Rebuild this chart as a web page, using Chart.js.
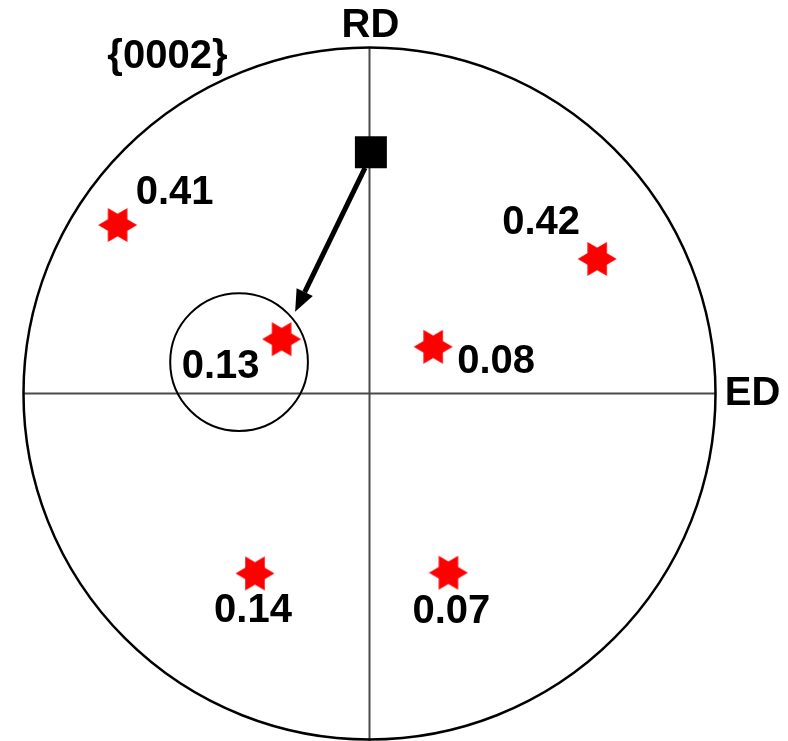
<!DOCTYPE html>
<html>
<head>
<meta charset="utf-8">
<script src="https://cdn.jsdelivr.net/npm/chart.js@4/dist/chart.umd.min.js"></script>
<style>
  html, body { margin: 0; padding: 0; background: #ffffff; }
  canvas { display: block; }
</style>
</head>
<body>
<canvas id="pole" width="788" height="741"></canvas>
<script>
// {0002} pole figure: pole positions in projection units (circle radius = 1)
const poleX = [-0.728, -0.254, 0.658, 0.184, -0.331, 0.228];
const poleY = [0.487, 0.157, 0.389, 0.135, -0.520, -0.518];
const poleIntensity = [0.41, 0.13, 0.42, 0.08, 0.14, 0.07];

// reference orientation (black square)
const refX = [0.004];
const refY = [0.697];

// highlighted region around the 0.13 pole
const ringX = [-0.377];
const ringY = [0.091];
const ringR = [0.199];

// arrow from the reference orientation to the highlighted pole
const arrowFrom = [-0.013, 0.652];
const arrowTo = [-0.215, 0.236];

const axisLabels = ['RD', 'ED'];
const figureTitle = '{0002}';

// red six-pointed star used as point marker
function makeStar() {
  const c = document.createElement('canvas');
  c.width = 40; c.height = 36;
  const g = c.getContext('2d');
  const cx = 20, cy = 18, R = 19.5, r = R / Math.sqrt(3);
  g.beginPath();
  for (let i = 0; i < 12; i++) {
    const a = i * Math.PI / 6;
    const rr = i % 2 === 0 ? R : r;
    const x = cx + rr * Math.cos(a), y = cy - rr * Math.sin(a);
    if (i === 0) g.moveTo(x, y); else g.lineTo(x, y);
  }
  g.closePath();
  g.fillStyle = '#ff0000';
  g.fill();
  return c;
}

const FONT = 'bold 40px "Liberation Sans", Arial, sans-serif';

// label offsets (px) of each intensity value from its star
const labelOffsets = [[57, -32], [-61, 28], [-56, -36], [63, 15], [-2, 38], [3, 39]];

const frame = {
  id: 'poleFrame',
  beforeDatasetsDraw(chart) {
    const { ctx, scales: { x, y } } = chart;
    const cx = x.getPixelForValue(0), cy = y.getPixelForValue(0);
    const rad = x.getPixelForValue(1) - cx;
    ctx.save();
    // crosshair
    ctx.strokeStyle = '#4a4a4a';
    ctx.lineWidth = 2;
    ctx.beginPath();
    ctx.moveTo(cx, y.getPixelForValue(1));
    ctx.lineTo(cx, y.getPixelForValue(-1) + 4);
    ctx.moveTo(x.getPixelForValue(-1), cy);
    ctx.lineTo(x.getPixelForValue(1), cy);
    ctx.stroke();
    // projection circle
    ctx.strokeStyle = '#000';
    ctx.lineWidth = 2.5;
    ctx.beginPath();
    ctx.arc(cx, cy, rad, 0, Math.PI * 2);
    ctx.stroke();
    // highlight ring
    ctx.lineWidth = 2;
    ctx.beginPath();
    ctx.arc(x.getPixelForValue(ringX[0]), y.getPixelForValue(ringY[0]),
            ringR[0] * rad, 0, Math.PI * 2);
    ctx.stroke();
    // arrow
    const x0 = x.getPixelForValue(arrowFrom[0]), y0 = y.getPixelForValue(arrowFrom[1]);
    const x1 = x.getPixelForValue(arrowTo[0]), y1 = y.getPixelForValue(arrowTo[1]);
    const ang = Math.atan2(y1 - y0, x1 - x0);
    const headL = 22, headW = 9;
    const bx = x1 - headL * Math.cos(ang), by = y1 - headL * Math.sin(ang);
    ctx.lineWidth = 5;
    ctx.beginPath();
    ctx.moveTo(x0, y0);
    ctx.lineTo(bx, by);
    ctx.stroke();
    ctx.fillStyle = '#000';
    ctx.beginPath();
    ctx.moveTo(x1, y1);
    ctx.lineTo(bx + headW * Math.sin(ang), by - headW * Math.cos(ang));
    ctx.lineTo(bx - headW * Math.sin(ang), by + headW * Math.cos(ang));
    ctx.closePath();
    ctx.fill();
    ctx.restore();
  },
  afterDatasetsDraw(chart) {
    const { ctx, scales: { x, y } } = chart;
    ctx.save();
    ctx.font = FONT;
    ctx.fillStyle = '#000';
    ctx.textAlign = 'center';
    ctx.textBaseline = 'middle';
    poleIntensity.forEach((v, i) => {
      const px = x.getPixelForValue(poleX[i]) + labelOffsets[i][0];
      const py = y.getPixelForValue(poleY[i]) + labelOffsets[i][1];
      ctx.fillText(v.toFixed(2), px, py);
    });
    const cx = x.getPixelForValue(0), cy = y.getPixelForValue(0);
    ctx.fillText(axisLabels[0], cx + 1, y.getPixelForValue(1) - 22);
    ctx.fillText(axisLabels[1], x.getPixelForValue(1) + 37, cy);
    ctx.fillText(figureTitle, x.getPixelForValue(-0.584), y.getPixelForValue(0.9725));
    ctx.restore();
  }
};

new Chart(document.getElementById('pole'), {
  type: 'scatter',
  data: {
    datasets: [
      {
        label: 'reference',
        data: refX.map((v, i) => ({ x: v, y: refY[i] })),
        pointStyle: 'rect',
        pointRadius: 22.6,
        backgroundColor: '#000',
        borderColor: '#000',
        borderWidth: 0,
        clip: false
      },
      {
        label: 'poles',
        data: poleX.map((v, i) => ({ x: v, y: poleY[i] })),
        pointStyle: makeStar(),
        pointRadius: 18,
        clip: false
      }
    ]
  },
  options: {
    responsive: false,
    animation: false,
    events: [],
    layout: { padding: 0, autoPadding: false },
    plugins: { legend: { display: false }, tooltip: { enabled: false } },
    scales: {
      x: { type: 'linear', min: -1.0679, max: 1.2095, display: false },
      y: { type: 'linear', min: -1.0043, max: 1.1373, display: false }
    }
  },
  plugins: [frame]
});
</script>
</body>
</html>
